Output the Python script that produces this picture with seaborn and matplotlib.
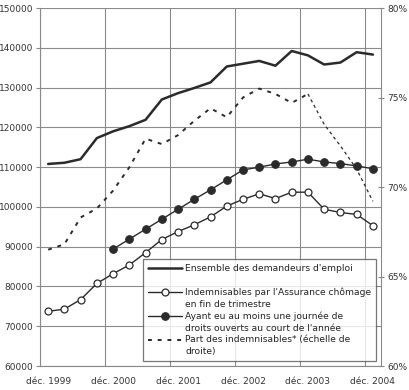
import matplotlib
matplotlib.use("Agg")
import matplotlib.pyplot as plt
import seaborn as sns
import numpy as np
from matplotlib.legend_handler import HandlerLine2D

# trimestres : déc. 1999 -> déc. 2004 (21 points)
trimestres = list(range(21))
annees = ["déc. 1999", "déc. 2000", "déc. 2001", "déc. 2002", "déc. 2003", "déc. 2004"]

ensemble = [110800, 111100, 112000, 117300, 119000, 120300, 121900, 127000, 128600, 129900,
            131300, 135300, 136000, 136700, 135500, 139200, 138100, 135800, 136300, 138900, 138300]
indemnisables = [73750, 74300, 76700, 80750, 83200, 85400, 88500, 91800, 93800, 95500,
                 97500, 100200, 101900, 103300, 102100, 103700, 103700, 99400, 98600, 98100, 95300]
droits_ouverts = [np.nan, np.nan, np.nan, np.nan, 89400, 91900, 94400, 96900, 99400, 101900,
                  104300, 106800, 109300, 110000, 110800, 111300, 112000, 111300, 110900, 110300, 109600]
part_indemnisables = [66.5, 66.8, 68.3, 68.8, 69.8, 71.1, 72.7, 72.4, 72.9, 73.7,
                      74.4, 73.9, 75.0, 75.5, 75.2, 74.7, 75.2, 73.5, 72.3, 71.0, 69.2]

labels = ["Ensemble des demandeurs d'emploi\n ",
          "Indemnisables par l'Assurance chômage\nen fin de trimestre",
          "Ayant eu au moins une journée de\ndroits ouverts au court de l'année",
          "Part des indemnisables* (échelle de\ndroite)"]


class PremiereLigne(HandlerLine2D):
    # symbole aligné sur la 1re ligne du libellé (comme dans Excel)
    def create_artists(self, legend, orig_handle, xdescent, ydescent, width, height, fontsize, trans):
        return super().create_artists(legend, orig_handle, xdescent, ydescent - 9.5,
                                      width, height, fontsize, trans)


sns.set_style("white")
plt.rcParams["font.family"] = ["DejaVu Sans"]
fonce = "#2b2b2b"
gris = "#8a8a8a"

fig = plt.figure(figsize=(4.1, 3.9), dpi=100)
ax = fig.add_axes([0.0976, 0.0615, 0.8317, 0.9179])
ax2 = ax.twinx()

# séries en valeur (échelle de gauche)
sns.lineplot(x=trimestres, y=ensemble, ax=ax, color=fonce, linewidth=1.8,
             label=labels[0], legend=False)
sns.lineplot(x=trimestres, y=indemnisables, ax=ax, color=fonce, linewidth=1.0,
             marker="o", markersize=5, markerfacecolor="white", markeredgecolor=fonce,
             markeredgewidth=0.9, label=labels[1], legend=False)
sns.lineplot(x=trimestres, y=droits_ouverts, ax=ax, color=fonce, linewidth=1.0,
             marker="o", markersize=5.5, markerfacecolor=fonce, markeredgecolor=fonce,
             label=labels[2], legend=False)

# part des indemnisables (échelle de droite)
sns.lineplot(x=trimestres[:17], y=part_indemnisables[:17], ax=ax2, color=fonce,
             linewidth=1.4, linestyle=(0, (2, 3)), label=labels[3], legend=False)
sns.lineplot(x=trimestres[16:], y=part_indemnisables[16:], ax=ax2, color=fonce,
             linewidth=0.9, linestyle=(0, (2.5, 2.5)), legend=False)

ax.set_xlim(-0.5, 20.5)
ax.set_ylim(60000, 150000)
ax2.set_ylim(60, 80)
ax.set_yticks(range(60000, 150001, 10000))
ax2.set_yticks([60, 65, 70, 75, 80])
ax2.set_yticklabels([f"{v}%" for v in [60, 65, 70, 75, 80]])

# grille : limites d'années en majeures, libellés au centre en mineures
ax.set_xticks([-0.5, 3.5, 7.5, 11.5, 15.5, 19.5])
ax.set_xticklabels([])
ax.set_xticks([0, 4, 8, 12, 16, 20], minor=True)
ax.set_xticklabels(annees, minor=True)
ax.tick_params(axis="x", which="minor", length=0, pad=8)
ax.tick_params(axis="x", which="major", length=3, color=gris, direction="inout")
ax.tick_params(axis="y", length=3, color=gris, pad=2)
ax2.tick_params(axis="y", length=5, color=gris, direction="inout", pad=2)
ax.tick_params(which="both", labelsize=6.5, labelcolor="#333333")
ax2.tick_params(labelsize=6.5, labelcolor="#333333")

ax.grid(True, which="major", color=gris, linewidth=0.8)
ax.set_axisbelow(True)
for s in ["top", "right"]:
    ax.spines[s].set_visible(False)
for s in ["top", "left", "bottom"]:
    ax2.spines[s].set_visible(False)
ax.spines["left"].set_color(gris)
ax.spines["bottom"].set_color(gris)
ax2.spines["right"].set_color(gris)

h1, l1 = ax.get_legend_handles_labels()
h2, l2 = ax2.get_legend_handles_labels()
poignees = h1 + h2
leg = ax2.legend(poignees, l1 + l2, loc="lower left", bbox_to_anchor=(0.302, 0.014),
                 fontsize=6.6, frameon=True, fancybox=False, edgecolor="#555555",
                 handlelength=3.8, handletextpad=0.3, borderpad=0.5, labelspacing=0.25,
                 borderaxespad=0, handler_map={h: PremiereLigne() for h in poignees})
leg.get_frame().set_linewidth(0.9)
for t in leg.get_texts():
    t.set_color("#222222")
    t.set_linespacing(1.45)

fig.savefig("out.png", dpi=100)
